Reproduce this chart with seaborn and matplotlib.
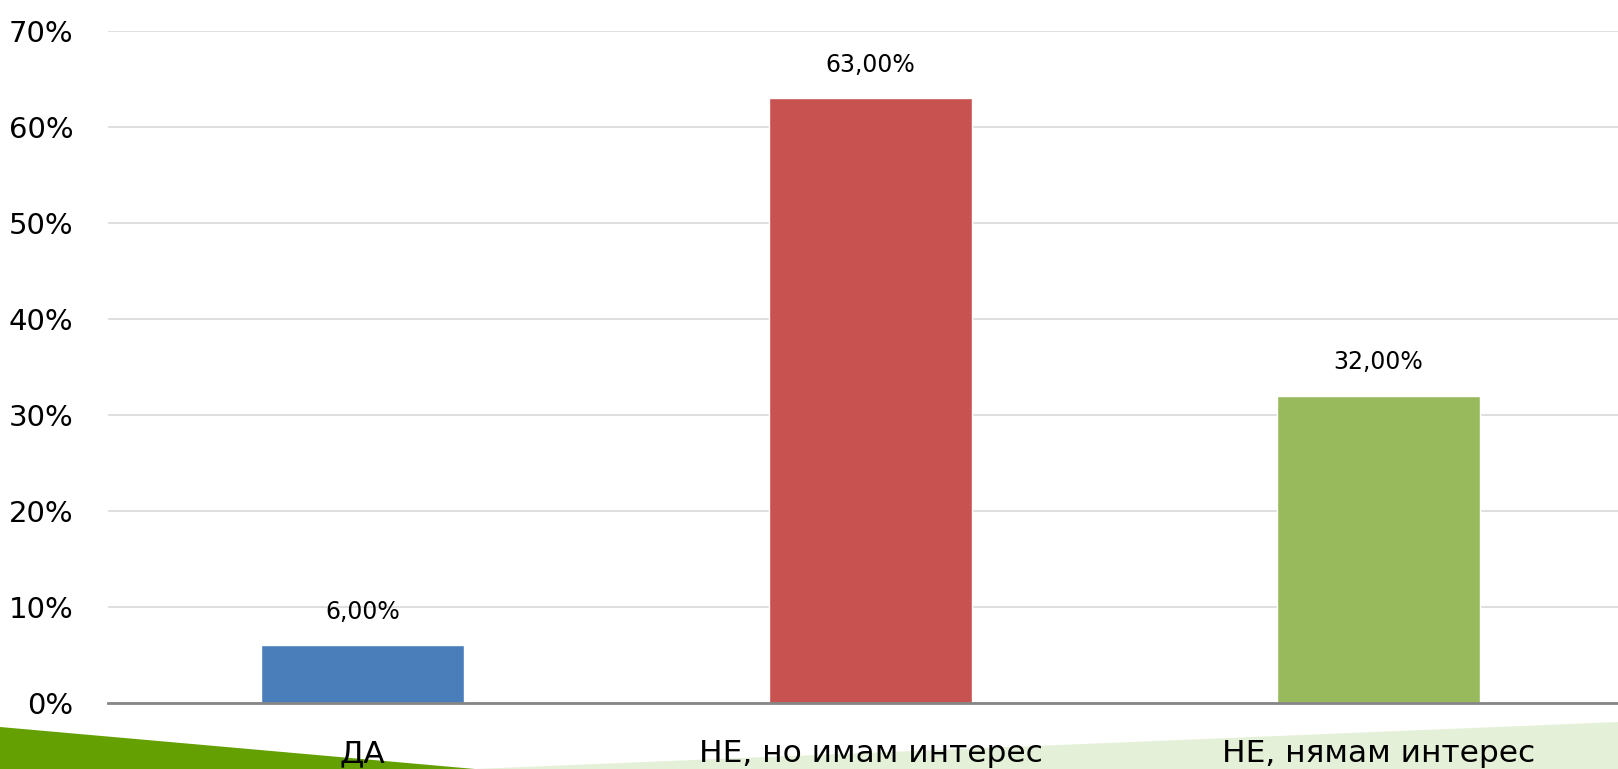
import numpy as np
import pandas as pd
import matplotlib
matplotlib.use("Agg")
import matplotlib.pyplot as plt
from matplotlib.patches import Polygon
from matplotlib.ticker import FuncFormatter
import seaborn as sns

categories = ["ДА", "НЕ, но имам интерес", "НЕ, нямам интерес"]
values = [6.0, 63.0, 32.0]
bar_colors = ["#4A7EBB", "#C75250", "#98B95C"]
y_ticks = [0, 10, 20, 30, 40, 50, 60, 70]

sns.set_style("white")
plt.rcParams['font.family'] = ['DejaVu Sans']

df = pd.DataFrame({"cat": categories, "val": values})

fig = plt.figure(figsize=(16.18, 7.69), dpi=100)
ax = fig.add_axes([0.0667, 0.0858, 0.9333, 0.8739])
ax.set_zorder(2)

# slide decoration at the bottom
fig.patches.append(Polygon([(475 / 1618, 0), (1, 47 / 769), (1, 0)], closed=True,
                           transform=fig.transFigure, facecolor="#E4F0D8", edgecolor="none", zorder=0))
fig.patches.append(Polygon([(0, 42 / 769), (475 / 1618, 0), (0, 0)], closed=True,
                           transform=fig.transFigure, facecolor="#64A002", edgecolor="none", zorder=0))

sns.barplot(data=df, x="cat", y="val", hue="cat", palette=bar_colors, width=0.4,
            dodge=False, legend=False, saturation=1, ax=ax, zorder=3)

ax.set_xlim(-0.502, 2.472)
ax.set_ylim(0, 70)
ax.set_yticks(y_ticks)
ax.yaxis.set_major_formatter(FuncFormatter(lambda v, p: "{:.0f}%".format(v)))
ax.grid(axis="y", color="#D9D9D9", linewidth=1.2, zorder=0)
ax.set_axisbelow(True)
for s in ["top", "right", "left"]:
    ax.spines[s].set_visible(False)
ax.spines["bottom"].set_color("#868686")
ax.spines["bottom"].set_linewidth(2)
ax.spines["bottom"].set_zorder(4)
ax.tick_params(axis="y", length=0, pad=25, labelsize=21, labelcolor="black")
ax.tick_params(axis="x", length=0, pad=26, labelsize=22.5, labelcolor="black")
ax.set_xlabel("")
ax.set_ylabel("")
ax.patch.set_alpha(0)

for i, v in enumerate(values):
    ax.annotate("{:.2f}%".format(v).replace(".", ","), (i, v), xytext=(0, 24),
                textcoords="offset points", ha="center", va="center", fontsize=17,
                color="black")

fig.savefig("out.png", dpi=100)
